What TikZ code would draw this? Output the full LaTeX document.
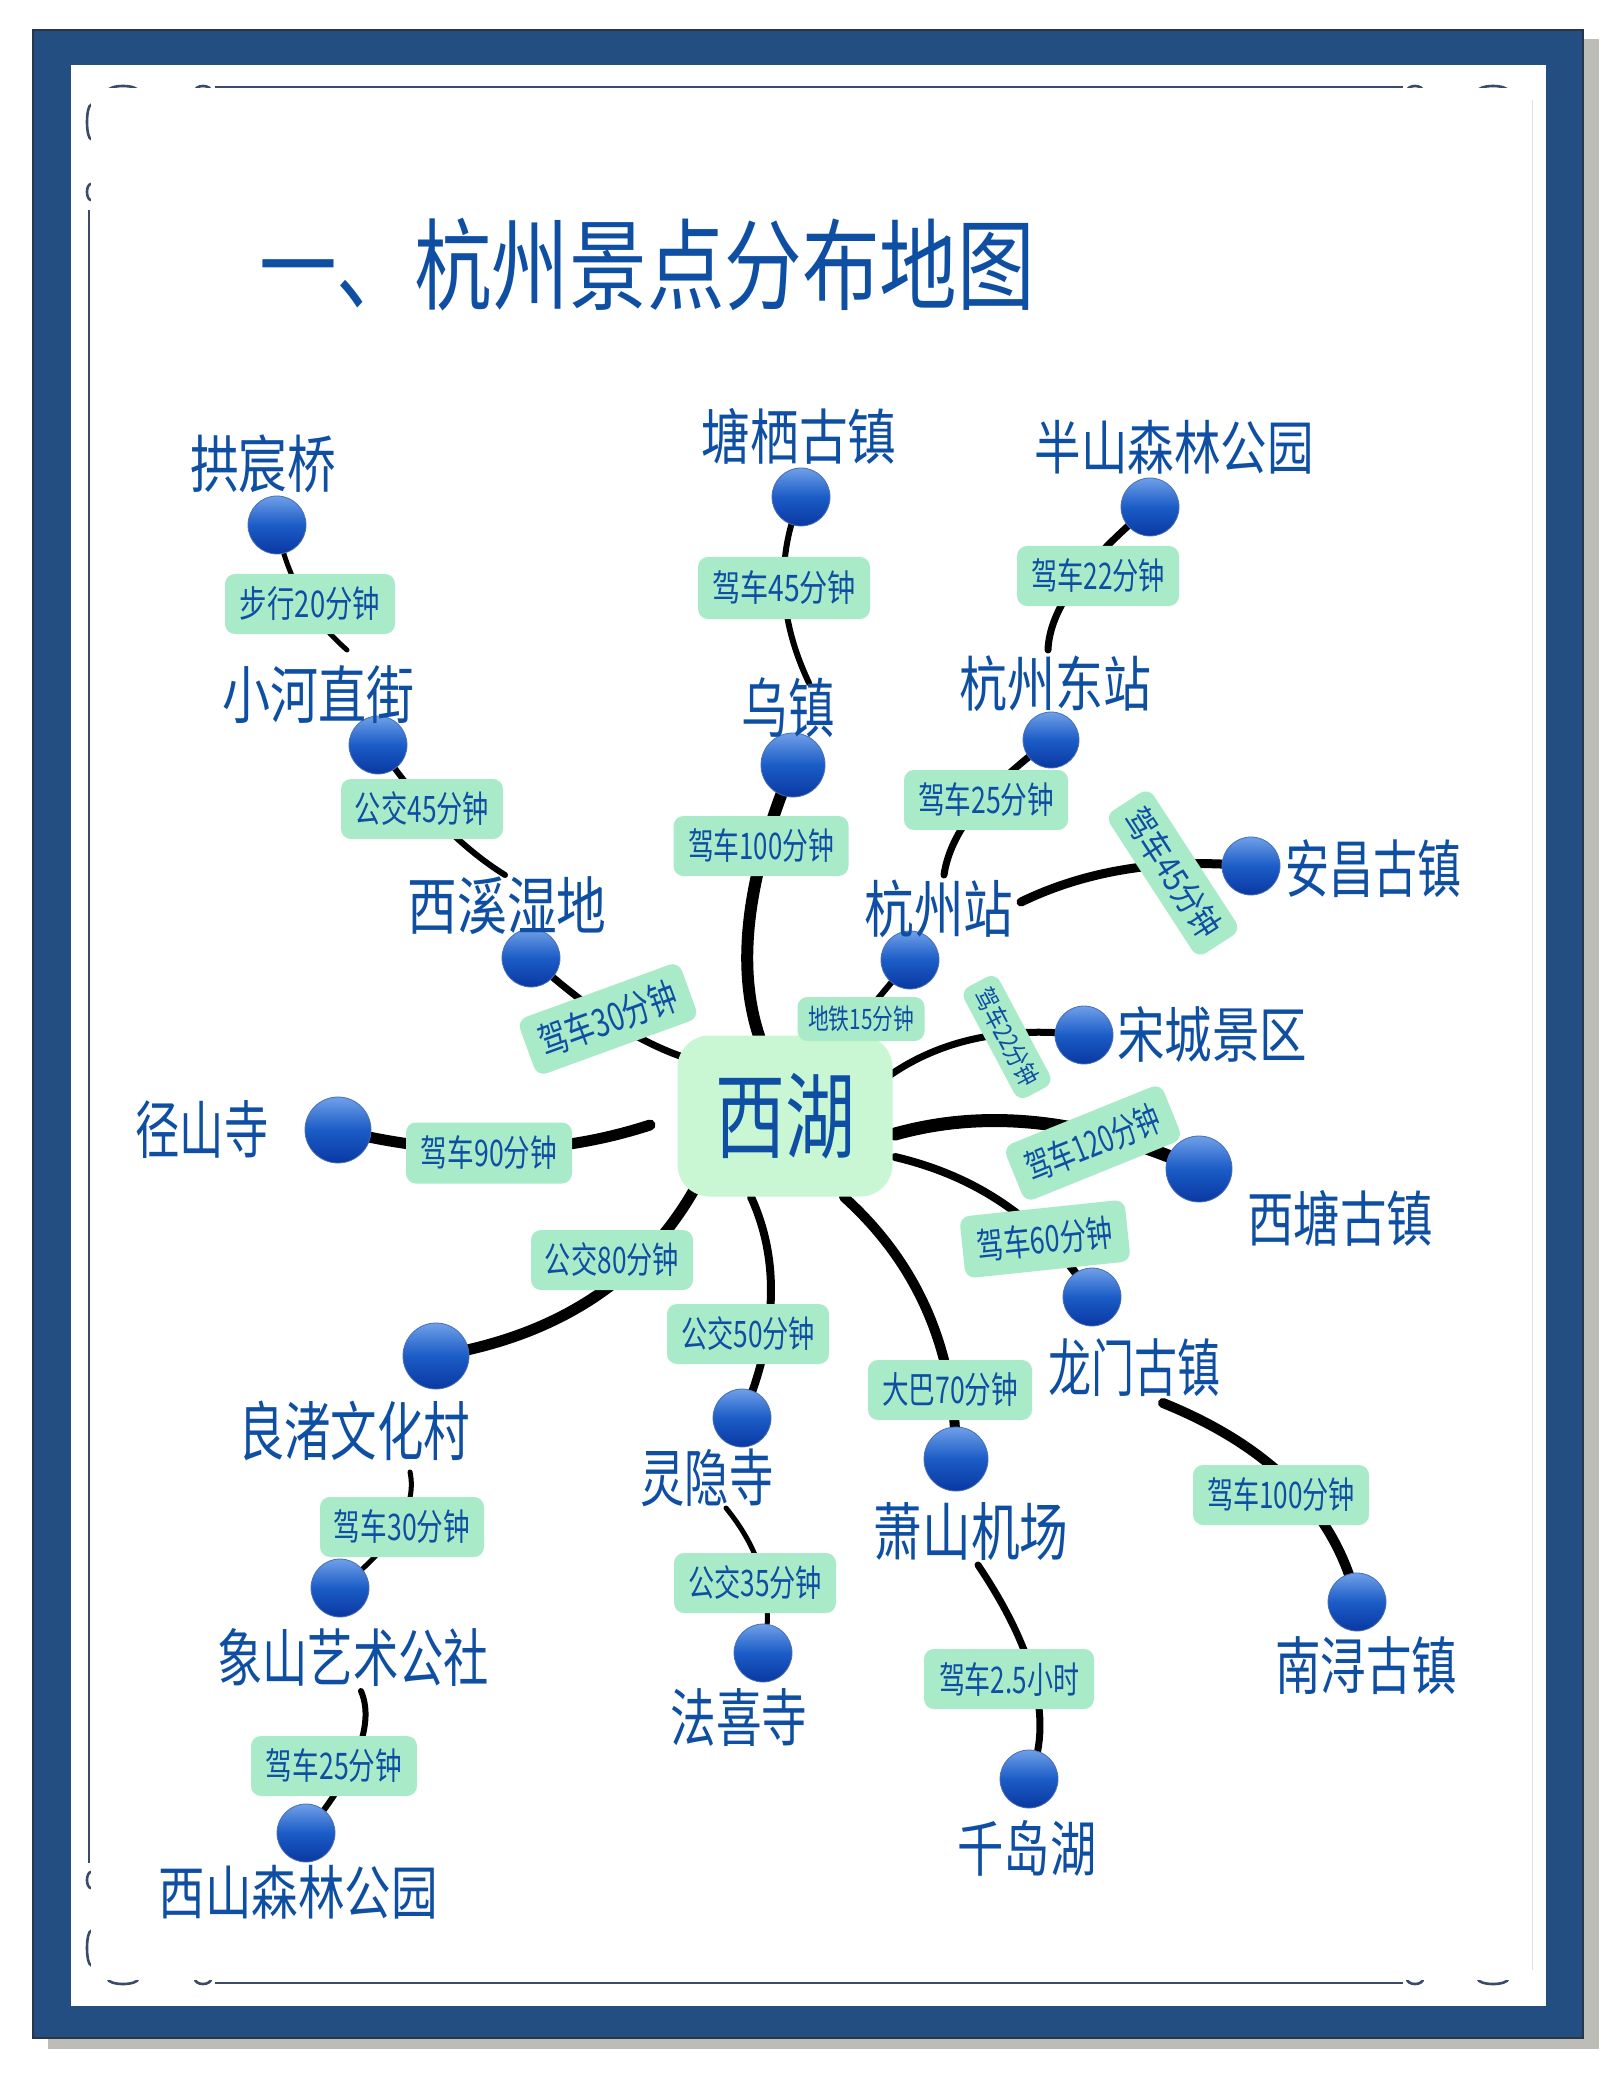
\documentclass[tikz,border=0pt]{standalone}
\usepackage{graphicx}
\usepackage{fontspec}
\usetikzlibrary{calc}
\setmainfont{Noto Sans CJK SC}
\newdimen\pxu \pxu=0.5pt
\newcommand\lbtx[3]{\resizebox*{#2\pxu}{#3\pxu}{#1}}
\newcommand\qlink[4]{\draw[link=#1] (#2) .. controls ($(#2)!0.667!(#3)$) and ($(#4)!0.667!(#3)$) .. (#4);}
\pgfdeclarelayer{frame}\pgfdeclarelayer{edges}
\pgfsetlayers{frame,edges,main}
\definecolor{navy}{HTML}{234E82}
\definecolor{navyedge}{HTML}{2A3548}
\definecolor{shadowc}{HTML}{BDBDB8}
\definecolor{inkb}{HTML}{0E4FA3}
\definecolor{orn}{HTML}{3A4A6A}
\definecolor{lblg}{HTML}{A9EBC8}
\definecolor{hubg}{HTML}{C9F7D3}
\definecolor{balltop}{HTML}{6F9FE8}
\definecolor{ballmid}{HTML}{1B5CC6}
\definecolor{ballbot}{HTML}{0A38A2}
\definecolor{ballrim}{HTML}{4A6FB5}
\tikzset{
  x=0.5pt,y=-0.5pt,
  ball/.style={circle,minimum size=#1*0.5pt,inner sep=0pt,draw=ballrim,line width=0.4pt,
    top color=balltop,bottom color=ballbot,middle color=ballmid},
  place/.style={inner sep=0pt,text=inkb},
  elab/.style 2 args={inner sep=0pt,text=inkb,fill=lblg,rounded corners=5pt,minimum width=#1*0.5pt,minimum height=#2*0.5pt},
  hub/.style={inner sep=0pt,text=inkb,fill=hubg,rounded corners=16pt,minimum width=215*0.5pt,minimum height=161*0.5pt},
  link/.style={draw=black,line width=#1*0.5pt,line cap=round},
  ornline/.style={draw=orn,line width=1.3pt},
}
\begin{document}
\begin{tikzpicture}
\useasboundingbox (0,0) rectangle (1617,2080);
\begin{pgfonlayer}{frame}
\fill[white] (0,0) rectangle (1617,2080);
\fill[shadowc] (48,39) rectangle (1599,2049);
\fill[navy,draw=navyedge,line width=0.6pt] (33,30) rectangle (1583,2038);
\fill[white] (71,65) rectangle (1546,2006);
\draw[ornline] (215,87) -- (1403,87);
\draw[ornline] (215,1983) -- (1403,1983);
\draw[ornline,line width=0.9pt] (89,210) -- (89,1863);
\draw[draw=black!12,line width=0.4pt] (1532,100) -- (1532,1970);
\foreach \p/\a/\b in {123/15/5,203/8/5,1415/8/5,1493/15/5}{
  \draw[ornline] (\p,91) ellipse ({\a} and {\b});
  \draw[ornline] (\p,1979) ellipse ({\a} and {\b});
}
\foreach \q/\a/\b in {122/4/17,192/4/8,1880/4/8,1948/4/17}{
  \draw[ornline] (91,\q) ellipse ({\a} and {\b});
}
\fill[white] (91,88) rectangle (1531,1980);
\end{pgfonlayer}

\node[place] (title) at (647,265) {\lbtx{一、杭州景点分布地图}{776}{93}};

% centre
\node[hub] (hu) at (785,1116) {\lbtx{西湖}{140}{86}};

% balls
\node[ball=58] (s1) at (277,525) {};
\node[ball=58] (s2) at (378,745) {};
\node[ball=58] (s3) at (531,958) {};
\node[ball=66] (s4) at (338,1130) {};
\node[ball=66] (s5) at (436,1356) {};
\node[ball=58] (s6) at (340,1588) {};
\node[ball=58] (s7) at (306,1833) {};
\node[ball=58] (s8) at (742,1418) {};
\node[ball=58] (s9) at (763,1653) {};
\node[ball=64] (s10) at (956,1459) {};
\node[ball=58] (s11) at (1029,1779) {};
\node[ball=58] (s12) at (1092,1297) {};
\node[ball=58] (s13) at (1357,1602) {};
\node[ball=66] (s14) at (1199,1169) {};
\node[ball=58] (s15) at (1084,1035) {};
\node[ball=58] (s16) at (1251,866) {};
\node[ball=58] (s17) at (910,960) {};
\node[ball=56] (s18) at (1051,740) {};
\node[ball=58] (s19) at (1150,507) {};
\node[ball=58] (s20) at (801,497) {};
\node[ball=64] (s21) at (793,765) {};

% place names
\node[place] (p1) at (263,464) {\lbtx{拱宸桥}{146}{58}};
\node[place] (p2) at (318,695) {\lbtx{小河直街}{192}{58}};
\node[place] (p3) at (507,906) {\lbtx{西溪湿地}{199}{58}};
\node[place] (p4) at (202,1130) {\lbtx{径山寺}{133}{58}};
\node[place] (p5) at (354,1431) {\lbtx{良渚文化村}{232}{60}};
\node[place] (p6) at (353,1657) {\lbtx{象山艺术公社}{272}{58}};
\node[place] (p7) at (298,1892) {\lbtx{西山森林公园}{279}{54}};
\node[place] (p8) at (707,1478) {\lbtx{灵隐寺}{133}{58}};
\node[place] (p9) at (739,1718) {\lbtx{法喜寺}{137}{58}};
\node[place] (p10) at (971,1532) {\lbtx{萧山机场}{195}{58}};
\node[place] (p11) at (1027,1848) {\lbtx{千岛湖}{139}{56}};
\node[place] (p12) at (1134,1368) {\lbtx{龙门古镇}{172}{58}};
\node[place] (p13) at (1366,1666) {\lbtx{南浔古镇}{182}{58}};
\node[place] (p14) at (1340,1218) {\lbtx{西塘古镇}{186}{56}};
\node[place] (p15) at (1212,1035) {\lbtx{宋城景区}{190}{56}};
\node[place] (p16) at (1373,869) {\lbtx{安昌古镇}{176}{58}};
\node[place] (p17) at (939,909) {\lbtx{杭州站}{149}{58}};
\node[place] (p18) at (1055,684) {\lbtx{杭州东站}{192}{56}};
\node[place] (p19) at (1174,447) {\lbtx{半山森林公园}{279}{54}};
\node[place] (p20) at (799,436) {\lbtx{塘栖古镇}{195}{56}};
\node[place] (p21) at (788,708) {\lbtx{乌镇}{93}{60}};

% travel labels
\node[elab={170}{60}] (e1) at (310,604) {\lbtx{步行20分钟}{140}{34}};
\node[elab={162}{60}] (e2) at (422,809) {\lbtx{公交45分钟}{134}{34}};
\node[elab={172}{60},rotate=20] (e3) at (608,1019) {\lbtx{驾车30分钟}{144}{36}};
\node[elab={166}{61}] (e4) at (489,1153) {\lbtx{驾车90分钟}{136}{34}};
\node[elab={162}{60}] (e5) at (612,1260) {\lbtx{公交80分钟}{134}{34}};
\node[elab={162}{60}] (e6) at (748,1334) {\lbtx{公交50分钟}{134}{34}};
\node[elab={164}{60}] (e7) at (950,1390) {\lbtx{大巴70分钟}{136}{34}};
\node[elab={162}{60}] (e8) at (755,1583) {\lbtx{公交35分钟}{134}{34}};
\node[elab={164}{60}] (e9) at (402,1527) {\lbtx{驾车30分钟}{136}{34}};
\node[elab={166}{60}] (e10) at (334,1766) {\lbtx{驾车25分钟}{136}{34}};
\node[elab={170}{60}] (e11) at (1009,1679) {\lbtx{驾车2.5小时}{140}{34}};
\node[elab={176}{60}] (e12) at (1281,1495) {\lbtx{驾车100分钟}{148}{34}};
\node[elab={166}{62},rotate=6] (e13) at (1045,1239) {\lbtx{驾车60分钟}{136}{34}};
\node[elab={170}{60},rotate=22] (e14) at (1093,1143) {\lbtx{驾车120分钟}{142}{34}};
\node[elab={125}{40},rotate=-62] (e15) at (1007,1037) {\lbtx{驾车22分钟}{106}{24}};
\node[elab={170}{52},rotate=-57] (e16) at (1173,873) {\lbtx{驾车45分钟}{146}{32}};
\node[elab={127}{44}] (e17) at (861,1019) {\lbtx{地铁15分钟}{106}{26}};
\node[elab={175}{60}] (e18) at (761,846) {\lbtx{驾车100分钟}{146}{34}};
\node[elab={164}{60}] (e19) at (986,800) {\lbtx{驾车25分钟}{136}{34}};
\node[elab={172}{62}] (e20) at (784,588) {\lbtx{驾车45分钟}{144}{34}};
\node[elab={162}{60}] (e21) at (1098,576) {\lbtx{驾车22分钟}{134}{34}};

% free ends of the connectors
\coordinate (c1) at (347,650);
\coordinate (c2) at (505,875);
\coordinate (c3) at (683,1057);
\coordinate (c4) at (650,1125);
\coordinate (c5) at (694,1190);
\coordinate (c6) at (751,1197);
\coordinate (c7) at (844,1197);
\coordinate (c8) at (895,1157);
\coordinate (c9) at (895,1134);
\coordinate (c10) at (886,1078);
\coordinate (c11) at (759,1036);
\coordinate (c12) at (809,683);
\coordinate (c13) at (1021,902);
\coordinate (c14) at (944,875);
\coordinate (c15) at (1048,650);
\coordinate (c16) at (410,1472);
\coordinate (c17) at (361,1691);
\coordinate (c18) at (726,1508);
\coordinate (c19) at (978,1565);
\coordinate (c20) at (1163,1403);

\begin{pgfonlayer}{edges}
\qlink{5}{s1.center}{290,600}{c1}
\qlink{6}{s2.center}{439,834}{c2}
\qlink{7}{s3.center}{613,1033}{c3}
\qlink{11}{s4.center}{506,1172}{c4}
\qlink{11}{c5}{615,1327}{s5.center}
\qlink{8}{c6}{795,1293}{s8.center}
\qlink{10}{c7}{956,1298}{s10.center}
\qlink{8}{c8}{1023,1187}{s12.center}
\qlink{13}{c9}{1035,1095}{s14.center}
\qlink{7}{c10}{965,1021}{s15.center}
\draw[link=6] (s17.center) -- (e17.center);
\qlink{12}{c11}{724,930}{s21.center}
\qlink{6}{s20.center}{763,586}{c12}
\qlink{9}{c13}{1120,854}{s16.center}
\qlink{7}{c14}{953,811}{s18.center}
\qlink{7}{c15}{1050,590}{s19.center}
\qlink{5}{c16}{421,1524}{s6.center}
\qlink{6}{c17}{382,1740}{s7.center}
\qlink{5}{c18}{781,1575}{s9.center}
\qlink{7}{c19}{1066,1696}{s11.center}
\qlink{10}{c20}{1326,1469}{s13.center}
\end{pgfonlayer}
\end{tikzpicture}
\end{document}
